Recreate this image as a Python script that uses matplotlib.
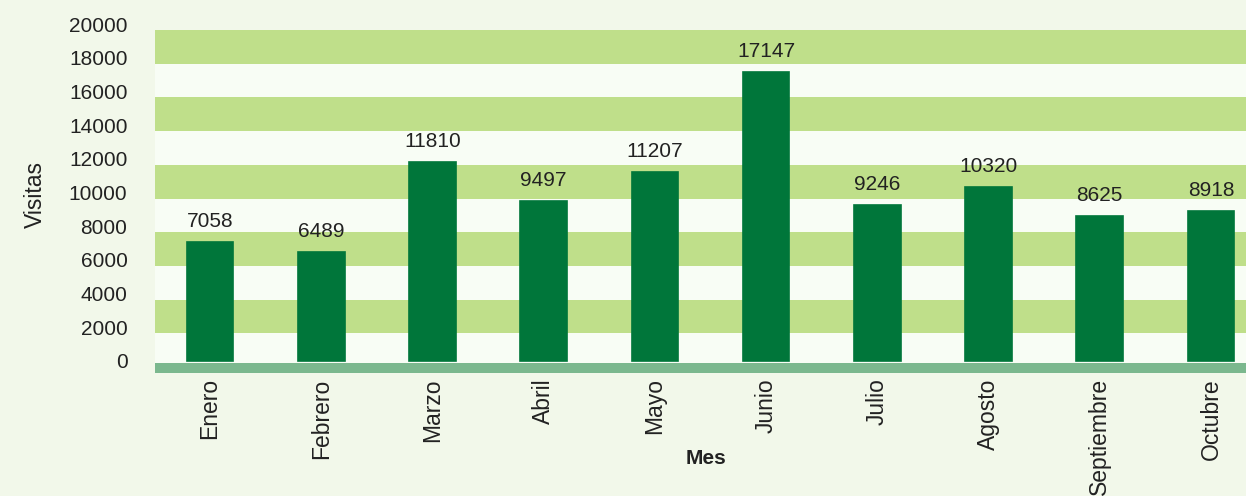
import matplotlib
matplotlib.use("Agg")
import matplotlib.pyplot as plt
from matplotlib.transforms import ScaledTranslation, blended_transform_factory
from matplotlib.patches import Rectangle

meses = ["Enero", "Febrero", "Marzo", "Abril", "Mayo", "Junio", "Julio",
         "Agosto", "Septiembre", "Octubre"]
visitas = [7058, 6489, 11810, 9497, 11207, 17147, 9246, 10320, 8625, 8918]
yticks = list(range(0, 20001, 2000))

plt.rcParams['font.family'] = ['Liberation Sans', 'DejaVu Sans']

BG = "#F2F8EA"
BAND_G = "#BFDF8A"
BAND_W = "#F8FDF5"
FLOOR = "#7BB88E"
BAR = "#00763A"
TXT = "#222222"
FS_H = 15
FS_V = 16.5

fig = plt.figure(figsize=(12.46, 4.96), dpi=100, facecolor=BG)
W, H = 1246, 496
left = 154.5 / W
right_px = 1266.5
bottom = (H - 361) / H
top = (H - 24) / H
ax = fig.add_axes([left, bottom, (right_px - 154.5) / W, top - bottom])
ax.set_facecolor("none")
ax.set_xlim(-0.5, len(meses) - 0.5)
ax.set_ylim(0, 20000)

shift = ScaledTranslation(0, -6 / 100, fig.dpi_scale_trans)
btrans = blended_transform_factory(ax.transAxes, ax.transData) + shift
for i in range(len(yticks) - 1):
    y0, y1 = yticks[i], yticks[i + 1]
    col = BAND_G if i % 2 == 1 else BAND_W
    ax.add_patch(Rectangle((0, y0), 1, y1 - y0, transform=btrans,
                           facecolor=col, edgecolor="none", zorder=0, clip_on=False))
# floor strip
floor_trans = blended_transform_factory(ax.transAxes, fig.dpi_scale_trans)
ax.add_patch(Rectangle((0, (H - 373) / 100), 1, 10 / 100, transform=floor_trans,
                       facecolor=FLOOR, edgecolor="none", zorder=1, clip_on=False))

x = list(range(len(meses)))
ax.bar(x, visitas, width=0.42, color=BAR, edgecolor=BAR, linewidth=1.2,
       zorder=3, clip_on=False)
for xi, v in zip(x, visitas):
    ax.annotate(str(v), (xi, v), xytext=(0, 8), textcoords="offset points",
                ha="center", va="bottom", fontsize=FS_H, color=TXT, zorder=4)

for s in ax.spines.values():
    s.set_visible(False)
ax.set_yticks(yticks)
ax.set_yticklabels([str(t) for t in yticks], fontsize=FS_H, color=TXT)
ax.set_xticks(x)
ax.set_xticklabels(meses, rotation=90, fontsize=FS_V, color=TXT)
ax.tick_params(axis="y", length=0, pad=19.5)
ax.tick_params(axis="x", length=0, pad=12.5)

fig.text(706 / W, (H - 459) / H, "Mes", ha="center", va="center",
         fontsize=FS_H, fontweight="bold", color=TXT)
fig.text(35 / W, (H - 195) / H, "Visitas", ha="center", va="center",
         rotation=90, fontsize=FS_V, color=TXT)

fig.savefig("out.png", dpi=100, facecolor=BG)
